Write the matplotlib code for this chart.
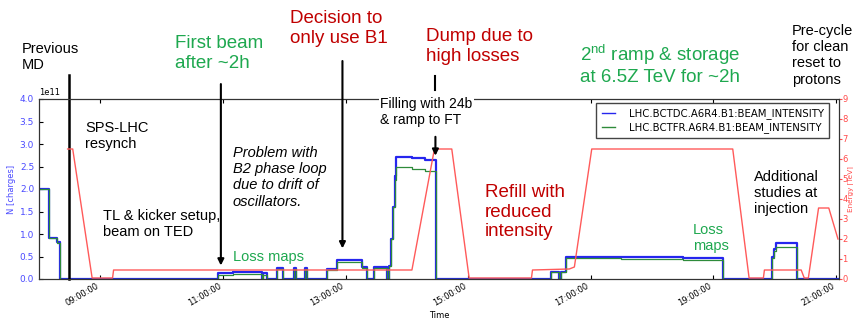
import matplotlib
matplotlib.use("Agg")
import matplotlib.pyplot as plt
import matplotlib.dates as mdates
import pandas as pd
import numpy as np

# beam intensity [1e11 charges], step values starting at the given time
bctdc_times = ["08:00", "08:10", "08:18", "08:21", "10:55", "11:10", "11:38", "11:39", "11:43",
               "11:53", "11:59", "12:10", "12:12", "12:20", "12:22", "12:42", "12:52", "13:16",
               "13:21", "13:28", "13:41", "13:43", "13:45", "13:46", "13:48", "13:49", "14:05",
               "14:18", "14:29", "16:21", "16:29", "16:31", "16:36", "17:30", "18:30", "19:09",
               "19:57", "19:59", "20:01", "20:22", "21:03"]
bctdc_values = [2.00, 0.92, 0.82, 0.0, 0.13, 0.16, 0.0, 0.13, 0.0,
                0.24, 0.0, 0.24, 0.0, 0.24, 0.0, 0.22, 0.42, 0.27,
                0.0, 0.27, 0.0, 0.30, 0.90, 1.60, 2.30, 2.71, 2.68,
                2.64, 0.0, 0.16, 0.0, 0.16, 0.49, 0.48, 0.46, 0.0,
                0.49, 0.66, 0.81, 0.0, 0.0]
bctfr_values = [2.00, 0.92, 0.80, 0.0, 0.10, 0.12, 0.0, 0.10, 0.0,
                0.22, 0.0, 0.22, 0.0, 0.22, 0.0, 0.20, 0.38, 0.25,
                0.0, 0.25, 0.0, 0.30, 0.90, 1.60, 2.20, 2.49, 2.45,
                2.40, 0.0, 0.15, 0.0, 0.15, 0.46, 0.45, 0.43, 0.0,
                0.46, 0.62, 0.72, 0.0, 0.0]

# beam energy [TeV]
energy_times = ["08:28", "08:33", "08:52", "09:12", "09:13", "14:05", "14:27", "14:44", "15:01",
                "16:02", "16:03", "16:39", "16:44", "17:01", "19:19", "19:35", "19:49", "19:50",
                "20:26", "20:29", "20:33", "20:43", "20:53", "21:02"]
energy_values = [6.5, 6.5, 0.05, 0.05, 0.45, 0.45, 6.5, 6.5, 0.05,
                 0.05, 0.45, 0.5, 0.6, 6.5, 6.5, 0.05, 0.05, 0.45,
                 0.45, 0.05, 0.05, 3.55, 3.55, 2.0]

# times of the black markers drawn over the plot
previous_md_time = "08:29"
first_beam_time = "10:58"
decision_time = "12:57"
dump_time = "14:28"

DAY = "2018-11-08 "


def to_time(values):
    return pd.to_datetime([DAY + v for v in values])


def to_num(value):
    return mdates.date2num(pd.Timestamp(DAY + value).to_pydatetime())


W, H = 854, 321
fig = plt.figure(figsize=(W / 100, H / 100), dpi=100)
ax = fig.add_axes([39 / W, 1 - 279 / H, 800 / W, 180 / H])
ax2 = ax.twinx()

plt.rcParams["mathtext.fontset"] = "custom"
plt.rcParams["mathtext.rm"] = "Liberation Sans"

# intensity curves
t_beam = to_time(bctdc_times)
ax.plot(t_beam, np.array(bctdc_values) * 1e11, color="#2626ee", lw=1.6, drawstyle="steps-post",
        label="LHC.BCTDC.A6R4.B1:BEAM_INTENSITY")
ax.plot(t_beam, np.array(bctfr_values) * 1e11, color="#2e8b3a", lw=0.9, drawstyle="steps-post",
        label="LHC.BCTFR.A6R4.B1:BEAM_INTENSITY")

# energy curve
ax2.plot(to_time(energy_times), energy_values, color="#ff5a5a", lw=1.0)

# axes formatting
ax.set_xlim(pd.Timestamp(DAY + "08:00"), pd.Timestamp(DAY + "21:03"))
ax.set_ylim(0, 4e11)
ax.set_yticks(np.arange(0, 4.01, 0.5) * 1e11)
ax2.set_ylim(0, 9)
ax2.set_yticks(range(10))
ax.xaxis.set_major_locator(mdates.HourLocator(byhour=range(9, 22, 2)))
ax.xaxis.set_major_formatter(mdates.DateFormatter("%H:%M:%S"))
for lbl in ax.get_xticklabels():
    lbl.set_rotation(30)
    lbl.set_ha("right")
ax.tick_params(axis="x", labelsize=6, direction="in", length=3, top=True, pad=2)
ax.tick_params(axis="y", labelsize=6.5, labelcolor="#4a4aff", direction="in", length=3)
ax2.tick_params(axis="y", labelsize=6, labelcolor="#ff4a4a", color="#ff4a4a", length=2, pad=0.5)
ax.yaxis.get_offset_text().set_fontsize(6)
ax.yaxis.get_offset_text().set_color("black")
ax.set_ylabel("N [charges]", fontsize=6, color="#4a4aff", labelpad=3)
ax2.set_ylabel("Energy [TeV]", fontsize=5.2, color="#ff4a4a")
ax2.yaxis.set_label_coords(1.0105, 0.5)
ax.set_xlabel("Time", fontsize=6, labelpad=2)
for side in ax2.spines.values():
    side.set_linewidth(0.8)
    side.set_color("#333333")

handles, labels = ax.get_legend_handles_labels()
leg = ax2.legend(handles, labels, loc="upper right", bbox_to_anchor=(829 / W, 1 - 103 / H),
                 bbox_transform=fig.transFigure, fontsize=7.3, fancybox=False, borderaxespad=0,
                 handlelength=1.3, handletextpad=1.4, framealpha=1, borderpad=0.5,
                 labelspacing=0.35)
leg.get_frame().set_edgecolor("#444444")
for line in leg.get_lines():
    line.set_linewidth(1.0)

# overlay markers: lines and arrows
trans = ax.get_xaxis_transform()
t_md = to_num(previous_md_time)
ax.plot([t_md, t_md], [0, 1.133], transform=trans, color="black", lw=1.8, clip_on=False, zorder=5)
arrow = dict(arrowstyle="-|>", color="black", lw=1.5, mutation_scale=9, shrinkA=0, shrinkB=0)
for when, y_top, y_tip in [(first_beam_time, 1.083, 0.075), (decision_time, 1.211, 0.17),
                           (dump_time, 0.79, 0.685)]:
    t = to_num(when)
    ax2.annotate("", xy=(t, y_tip), xytext=(t, y_top), xycoords=trans, textcoords=trans,
                 arrowprops=arrow, annotation_clip=False, zorder=6)
t_dump = to_num(dump_time)
ax.plot([t_dump, t_dump], [1.05, 1.128], transform=trans, color="black", lw=1.5, clip_on=False)

# slide annotations
GREEN = "#1ea84f"
RED = "#c00000"
FONT = "Liberation Sans"


def note(x, y, s, size=10, color="black", **kw):
    fig.text(x / W, 1 - y / H, s, ha="left", va="top", fontsize=size, color=color,
             family=FONT, linespacing=1.2, **kw)


note(22, 42, "Previous\nMD", 10.5)
note(175, 35, "First beam\nafter ~2h", 13.5, GREEN)
note(290, 10, "Decision to\nonly use B1", 13.5, RED)
note(426, 28, "Dump due to\nhigh losses", 13.5, RED)
note(580, 42, "2$^{\\mathrm{nd}}$ ramp & storage\nat 6.5Z TeV for ~2h", 13.5, GREEN)
note(792, 24, "Pre-cycle\nfor clean\nreset to\nprotons", 10.5)
note(380, 97, "Filling with 24b\n& ramp to FT", 10,
     bbox=dict(facecolor="white", edgecolor="none", pad=1))
note(85, 121, "SPS-LHC\nresynch", 10.5)
note(103, 209, "TL & kicker setup,\nbeam on TED", 10.5)
note(233, 146, "Problem with\nB2 phase loop\ndue to drift of\noscillators.", 10.5, style="italic")
note(233, 250, "Loss maps", 10.5, GREEN)
note(485, 184, "Refill with\nreduced\nintensity", 13.5, RED)
note(693, 223, "Loss\nmaps", 10.5, GREEN)
note(754, 170, "Additional\nstudies at\ninjection", 10.5)

fig.savefig("out.png", dpi=100)
